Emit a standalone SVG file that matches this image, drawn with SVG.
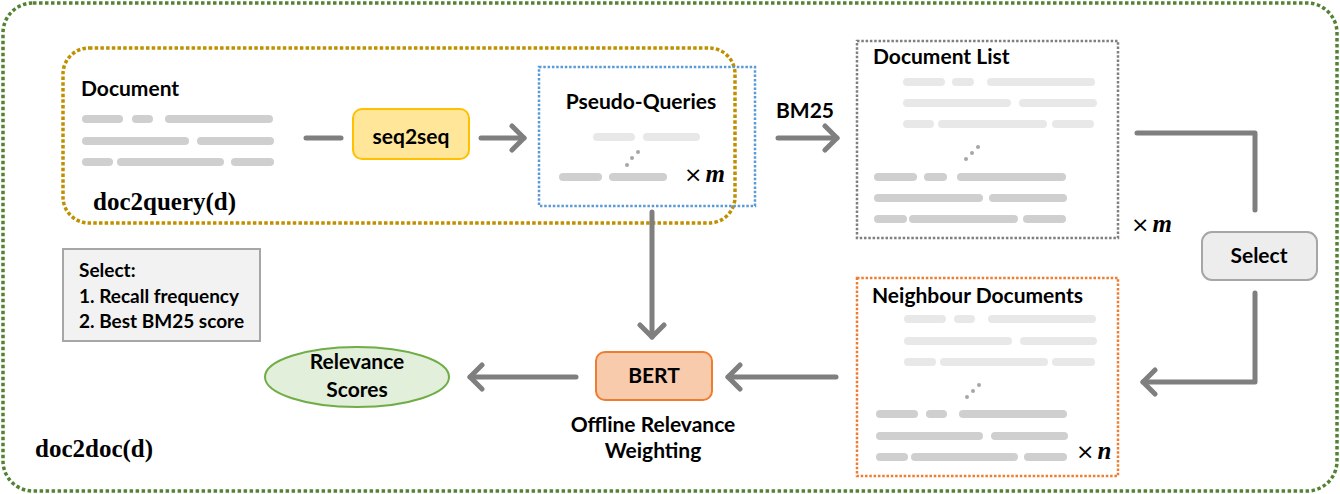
<svg xmlns="http://www.w3.org/2000/svg" width="1340" height="494" viewBox="0 0 1340 494">
<style>
.t{font-family:Lato,"Liberation Sans",sans-serif;font-weight:bold;font-size:21px;fill:#000}
.s{font-family:"Liberation Serif",serif;font-weight:bold;font-size:25px;fill:#000}
.x{font-family:"DejaVu Sans",sans-serif;font-size:22px;fill:#000}
.mi{font-family:"Liberation Serif",serif;font-weight:bold;font-style:italic;font-size:25px}
.pd{stroke:#CFCFCF;stroke-width:8;stroke-linecap:round}
.pl{stroke:#E8E8E8;stroke-width:8;stroke-linecap:round}
.dot{fill:#A6A6A6}
.con{stroke:#7F7F7F;stroke-width:5;stroke-linecap:round;stroke-linejoin:round;fill:none}
.c19{font-size:19px}
</style>
<defs>
<marker id="ah" markerUnits="userSpaceOnUse" markerWidth="30" markerHeight="30" viewBox="-15 -15 30 30" refX="0" refY="0" orient="auto">
<path d="M-12,-12 L0,0 L-12,12" fill="none" stroke="#7F7F7F" stroke-width="5" stroke-linecap="round" stroke-linejoin="round"/>
</marker>
</defs>
<rect width="1340" height="494" fill="#fff"/>

<g id="doc2doc">
<rect x="3" y="3" width="1334" height="488" rx="30" fill="none" stroke="#548235" stroke-width="3.5" stroke-dasharray="3.5 2.5"/>
<text class="s" x="35" y="457">doc2doc(d)</text>
</g>

<g id="doc2query">
<rect x="63" y="48" width="672" height="175" rx="26" fill="none" stroke="#BF9000" stroke-width="3.5" stroke-dasharray="3.5 2.2"/>
<text class="s" x="93" y="210">doc2query(d)</text>
</g>

<g id="document">
<text class="t" x="81" y="96">Document</text>
<line class="pd" x1="86" y1="119" x2="119" y2="119"/><line class="pd" x1="136" y1="119" x2="149" y2="119"/><line class="pd" x1="169" y1="119" x2="269" y2="119"/>
<line class="pd" x1="86" y1="141" x2="185" y2="141"/><line class="pd" x1="201" y1="141" x2="270" y2="141"/>
<line class="pd" x1="86" y1="162" x2="109" y2="162"/><line class="pd" x1="121" y1="162" x2="220" y2="162"/><line class="pd" x1="235" y1="162" x2="270" y2="162"/>
</g>

<g id="seq2seq">
<rect x="353" y="109" width="116" height="50" rx="9" fill="#FFE699" stroke="#FFC000" stroke-width="2"/>
<text class="t" x="411" y="144" text-anchor="middle">seq2seq</text>
</g>

<g id="pseudo-queries">
<rect x="539" y="67" width="216" height="139" fill="none" stroke="#5B9BD5" stroke-width="2.5" stroke-dasharray="2.5 1.8"/>
<text class="t" x="641" y="109" text-anchor="middle">Pseudo-Queries</text>
<line class="pl" x1="597" y1="137" x2="631" y2="137"/><line class="pl" x1="647" y1="137" x2="696" y2="137"/>
<circle class="dot" cx="627" cy="165" r="2"/><circle class="dot" cx="632" cy="158" r="2"/><circle class="dot" cx="638" cy="152" r="2"/>
<line class="pd" x1="563" y1="177" x2="598" y2="177"/><line class="pd" x1="613" y1="177" x2="663" y2="177"/>
<text x="684" y="182"><tspan class="x">×</tspan><tspan class="mi" dx="3">m</tspan></text>
</g>

<g id="bm25-label">
<text class="t" x="805" y="118" text-anchor="middle">BM25</text>
</g>

<g id="document-list">
<rect x="857" y="41" width="261" height="197" fill="none" stroke="#7F7F7F" stroke-width="2.5" stroke-dasharray="2.5 1.8"/>
<text class="t" x="873" y="64">Document List</text>
<line class="pl" x1="907" y1="82" x2="941" y2="82"/><line class="pl" x1="956" y1="82" x2="970" y2="82"/><line class="pl" x1="991" y1="82" x2="1091" y2="82"/>
<line class="pl" x1="907" y1="103" x2="1007" y2="103"/><line class="pl" x1="1023" y1="103" x2="1093" y2="103"/>
<line class="pl" x1="907" y1="124" x2="930" y2="124"/><line class="pl" x1="942" y1="124" x2="1043" y2="124"/><line class="pl" x1="1056" y1="124" x2="1090" y2="124"/>
<circle class="dot" cx="966" cy="159" r="2"/><circle class="dot" cx="972" cy="153" r="2"/><circle class="dot" cx="978" cy="147" r="2"/>
<line class="pd" x1="878" y1="177" x2="913" y2="177"/><line class="pd" x1="928" y1="177" x2="943" y2="177"/><line class="pd" x1="961" y1="177" x2="1062" y2="177"/>
<line class="pd" x1="878" y1="198" x2="979" y2="198"/><line class="pd" x1="993" y1="198" x2="1063" y2="198"/>
<line class="pd" x1="878" y1="219" x2="903" y2="219"/><line class="pd" x1="913" y1="219" x2="1014" y2="219"/><line class="pd" x1="1027" y1="219" x2="1062" y2="219"/>
<text x="1131" y="232"><tspan class="x">×</tspan><tspan class="mi" dx="3">m</tspan></text>
</g>

<g id="select">
<rect x="1202" y="232" width="115" height="48" rx="10" fill="#EDEDED" stroke="#A6A6A6" stroke-width="2"/>
<text class="t" x="1259" y="263" text-anchor="middle">Select</text>
</g>

<g id="neighbour-documents">
<rect x="857" y="278" width="261" height="198" fill="none" stroke="#ED7D31" stroke-width="2.5" stroke-dasharray="2.5 1.8"/>
<text class="t" x="872" y="303">Neighbour Documents</text>
<line class="pl" x1="908" y1="319" x2="942" y2="319"/><line class="pl" x1="958" y1="319" x2="971" y2="319"/><line class="pl" x1="992" y1="319" x2="1092" y2="319"/>
<line class="pl" x1="908" y1="341" x2="1008" y2="341"/><line class="pl" x1="1024" y1="341" x2="1093" y2="341"/>
<line class="pl" x1="908" y1="362" x2="932" y2="362"/><line class="pl" x1="944" y1="362" x2="1044" y2="362"/><line class="pl" x1="1056" y1="362" x2="1091" y2="362"/>
<circle class="dot" cx="967" cy="397" r="2"/><circle class="dot" cx="973" cy="391" r="2"/><circle class="dot" cx="979" cy="385" r="2"/>
<line class="pd" x1="880" y1="414" x2="914" y2="414"/><line class="pd" x1="930" y1="414" x2="943" y2="414"/><line class="pd" x1="963" y1="414" x2="1063" y2="414"/>
<line class="pd" x1="880" y1="436" x2="979" y2="436"/><line class="pd" x1="995" y1="436" x2="1064" y2="436"/>
<line class="pd" x1="880" y1="457" x2="904" y2="457"/><line class="pd" x1="915" y1="457" x2="1014" y2="457"/><line class="pd" x1="1028" y1="457" x2="1063" y2="457"/>
<text x="1076" y="459"><tspan class="x">×</tspan><tspan class="mi" dx="3">n</tspan></text>
</g>

<g id="bert">
<rect x="596" y="352" width="116" height="48" rx="9" fill="#F8CBAD" stroke="#ED7D31" stroke-width="2"/>
<text class="t" x="654" y="383" text-anchor="middle">BERT</text>
<text class="t" x="653" y="432" text-anchor="middle">Offline Relevance</text>
<text class="t" x="653" y="458" text-anchor="middle">Weighting</text>
</g>

<g id="relevance-scores">
<ellipse cx="357" cy="377" rx="92" ry="30" fill="#E2EFDA" stroke="#70AD47" stroke-width="2"/>
<text class="t" x="357" y="369" text-anchor="middle">Relevance</text>
<text class="t" x="357" y="397" text-anchor="middle">Scores</text>
</g>

<g id="select-criteria">
<rect x="63" y="249" width="197" height="92" fill="#F2F2F2" stroke="#A6A6A6" stroke-width="2"/>
<text class="t c19" x="79" y="277">Select:</text>
<text class="t c19" x="79" y="303">1. Recall frequency</text>
<text class="t c19" x="79" y="328">2. Best BM25 score</text>
</g>

<g id="connectors">
<line class="con" x1="306" y1="138" x2="341" y2="138"/>
<line class="con" x1="481" y1="138" x2="524" y2="138" marker-end="url(#ah)"/>
<line class="con" x1="778" y1="138" x2="837" y2="138" marker-end="url(#ah)"/>
<polyline class="con" points="1137,133 1255,133 1255,210"/>
<polyline class="con" points="1255,293 1255,382 1143,382" marker-end="url(#ah)"/>
<line class="con" x1="652" y1="212" x2="652" y2="337" marker-end="url(#ah)"/>
<line class="con" x1="836" y1="377" x2="728" y2="377" marker-end="url(#ah)"/>
<line class="con" x1="576" y1="377" x2="470" y2="377" marker-end="url(#ah)"/>
</g>
</svg>
